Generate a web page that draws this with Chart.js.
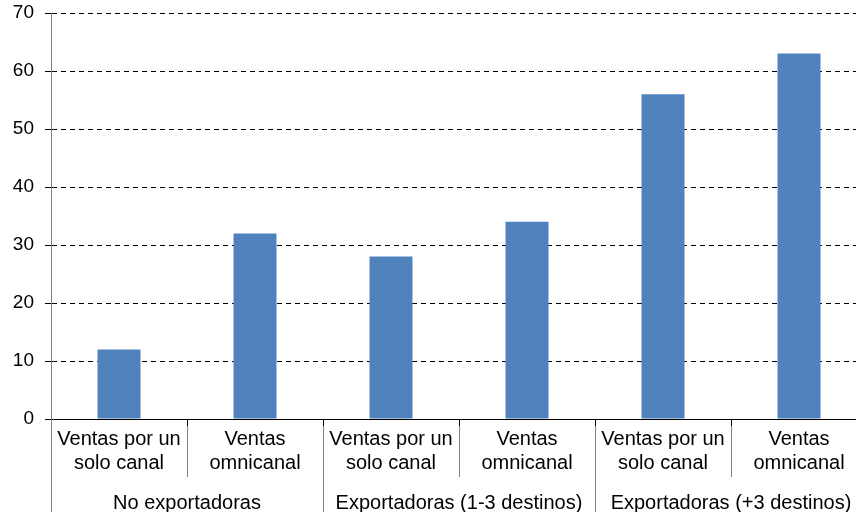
<!DOCTYPE html>
<html lang="es">
<head>
<meta charset="utf-8">
<title>Ventas por canal según perfil exportador</title>
<script src="https://cdn.jsdelivr.net/npm/chart.js@4.4.1/dist/chart.umd.min.js"></script>
<style>
    html, body { margin: 0; padding: 0; overflow: hidden; background: #fff; }
    canvas { display: block; }
</style>
</head>
<body>
<canvas id="salesChart" width="867" height="512"></canvas>
<script>
const channels = [
    ['Ventas por un', 'solo canal'], ['Ventas', 'omnicanal'],
    ['Ventas por un', 'solo canal'], ['Ventas', 'omnicanal'],
    ['Ventas por un', 'solo canal'], ['Ventas', 'omnicanal']
];
const groups = ['No exportadoras', 'Exportadoras (1-3 destinos)', 'Exportadoras (+3 destinos)'];
const values = [12, 32, 28, 34, 56, 63];
const yTicks = [0, 10, 20, 30, 40, 50, 60, 70];

const FONT = '"Liberation Sans", Arial, sans-serif';
const GREY = '#808080';

// second row of the category axis: separators and the exporter group names
const groupAxis = {
    id: 'groupAxis',
    afterDraw(chart) {
        const { ctx, scales: { x } } = chart;
        const axisY = x.top;
        ctx.save();
        ctx.strokeStyle = GREY;
        ctx.lineWidth = 1;
        for (let i = 0; i <= values.length; i++) {
            const px = Math.round(x.getPixelForValue(i - 0.5)) + 0.5;
            const bottom = i % 2 === 0 ? chart.height : 477;
            ctx.beginPath();
            ctx.moveTo(px, axisY + (i === 0 ? 0 : 7));
            ctx.lineTo(px, bottom);
            ctx.stroke();
        }
        ctx.fillStyle = '#000';
        ctx.font = '20px ' + FONT;
        ctx.textAlign = 'center';
        ctx.textBaseline = 'alphabetic';
        groups.forEach((name, i) => {
            const cx = (x.getPixelForValue(i * 2) + x.getPixelForValue(i * 2 + 1)) / 2;
            ctx.fillText(name, cx, 509);
        });
        ctx.restore();
    }
};

const ctx = document.getElementById('salesChart').getContext('2d');
new Chart(ctx, {
    type: 'bar',
    data: {
        labels: channels,
        datasets: [{
            data: values,
            backgroundColor: '#4F81BD',
            borderWidth: 0,
            barPercentage: 0.316,
            categoryPercentage: 1
        }]
    },
    options: {
        responsive: false,
        animation: false,
        layout: { padding: { top: 13, left: 0, right: 0, bottom: 0 } },
        plugins: {
            legend: { display: false },
            tooltip: { enabled: false }
        },
        scales: {
            x: {
                offset: true,
                afterFit: scale => { scale.height = 93; },
                border: { color: '#000', width: 1 },
                grid: {
                    offset: true,
                    drawOnChartArea: false,
                    tickLength: 7,
                    tickColor: c => c.index === 0 ? GREY : '#000'
                },
                ticks: {
                    autoSkip: false,
                    maxRotation: 0,
                    padding: 1,
                    color: '#000',
                    font: { family: FONT, size: 20, lineHeight: 1.2 }
                }
            },
            y: {
                min: 0,
                max: 70,
                afterFit: scale => {
                    scale.width = 51;
                    scale.paddingTop = 0;
                    scale.paddingBottom = 0;
                },
                afterBuildTicks: scale => { scale.ticks = yTicks.map(v => ({ value: v })); },
                border: { color: GREY, width: 1, dash: [5, 4] },
                grid: {
                    color: c => c.tick && c.tick.value === 0 ? 'rgba(0,0,0,0)' : '#000',
                    tickColor: '#000',
                    tickLength: 6
                },
                ticks: {
                    padding: 11,
                    color: '#000',
                    font: { family: FONT, size: 19 }
                }
            }
        }
    },
    plugins: [groupAxis]
});
</script>
</body>
</html>
